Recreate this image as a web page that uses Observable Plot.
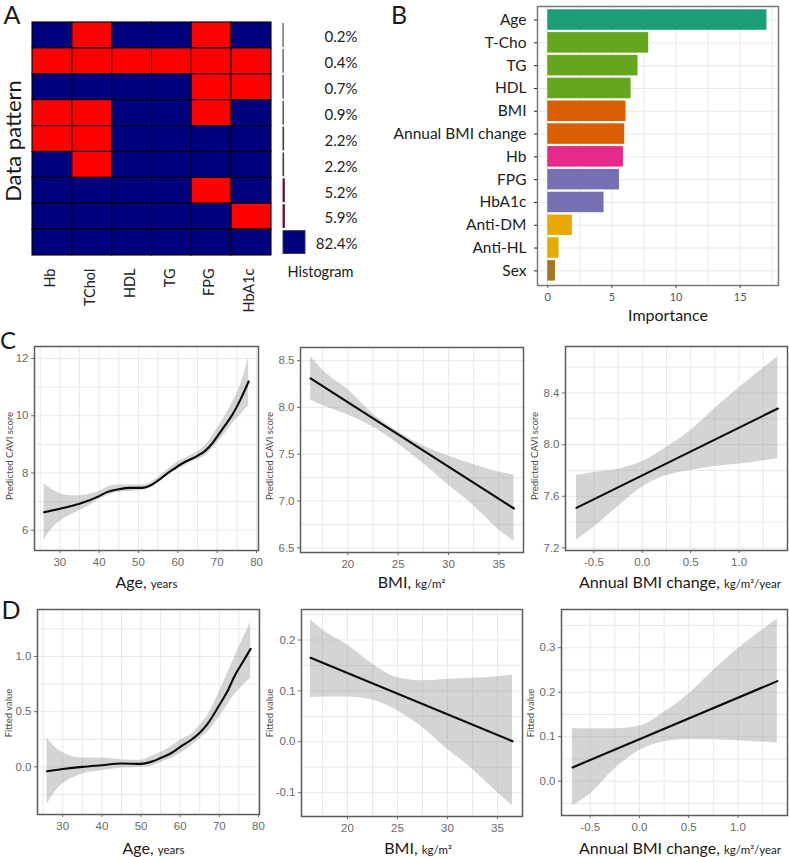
<!DOCTYPE html>
<html>
<head>
<meta charset="utf-8">
<script src="https://cdn.jsdelivr.net/npm/d3@7"></script>
<script src="https://cdn.jsdelivr.net/npm/@observablehq/plot@0.6"></script>
<style>
html,body{margin:0;padding:0;background:#fff}
#page{position:relative;width:789px;height:857px;overflow:hidden;font-family:Lato,sans-serif;color:#1a1a1a}
.lab{position:absolute;white-space:nowrap;line-height:1}
.lab small{font-size:.72em}
</style>
</head>
<body>
<div id="page"></div>
<script>
// ---- Panel A data
const patternVars = ["Hb","TChol","HDL","TG","FPG","HbA1c"];
const patternRows = [
  [0,1,0,0,1,0],
  [1,1,1,1,1,1],
  [0,0,0,0,1,1],
  [1,1,0,0,1,0],
  [1,1,0,0,0,0],
  [0,1,0,0,0,0],
  [0,0,0,0,1,0],
  [0,0,0,0,0,1],
  [0,0,0,0,0,0]
];
const patternPct = [0.2,0.4,0.7,0.9,2.2,2.2,5.2,5.9,82.4];

// ---- Panel B data
const impNames = ["Age","T-Cho","TG","HDL","BMI","Annual BMI change","Hb","FPG","HbA1c","Anti-DM","Anti-HL","Sex"];
const impValues = [17.09,7.87,7.04,6.5,6.1,6.0,5.9,5.59,4.39,1.92,0.88,0.6];
const impGroups = ["a","b","b","b","c","c","d","e","e","f","f","g"];

// ---- Panel C data
const c1LineX = [26,30,35,40,42,45,48,51,53,55,57,59,60,62,65,67,69,70,72,74,76,78];
const c1LineY = [6.63,6.75,6.92,7.19,7.33,7.43,7.48,7.48,7.56,7.74,7.95,8.14,8.24,8.4,8.6,8.78,9.08,9.27,9.66,10.07,10.59,11.2];
const c1BandX = [26,28,30,33,35,38,40,42,45,50,52,55,58,60,62,65,67,70,72,74,76,78];
const c1Upper = [7.62,7.42,7.28,7.2,7.2,7.27,7.36,7.5,7.58,7.58,7.6,7.85,8.17,8.38,8.52,8.74,8.95,9.55,10.0,10.5,11.1,12.05];
const c1Lower = [5.65,6.05,6.3,6.55,6.68,6.9,7.07,7.2,7.33,7.38,7.42,7.65,7.98,8.12,8.28,8.47,8.6,9.05,9.38,9.75,10.05,10.35];

const bmiLineX = [16.3,36.5];
const c2LineY = [8.31,6.92];
const c2UpperX = [16.3,17.5,20,22.5,25,27.5,30,32.5,35,36.5];
const c2Upper = [8.54,8.40,8.19,7.93,7.74,7.59,7.48,7.39,7.31,7.28];
const c2Lower = [8.08,8.02,7.92,7.79,7.61,7.40,7.17,6.95,6.69,6.57];

const chgLineX = [-0.68,1.4];
const c3LineY = [7.51,8.28];
const c3BandX = [-0.68,-0.5,-0.25,0,0.25,0.5,0.75,1,1.4];
const c3Upper = [7.76,7.785,7.81,7.87,7.98,8.11,8.28,8.44,8.68];
const c3Lower = [7.26,7.36,7.52,7.67,7.76,7.80,7.83,7.85,7.89];

// ---- Panel D data
const d1LineX = [26,30,35,40,45,50,53,55,58,60,63,65,67,70,72,74,76,78];
const d1LineY = [-0.04,-0.02,0,0.015,0.03,0.027,0.05,0.08,0.13,0.18,0.25,0.31,0.39,0.56,0.68,0.83,0.95,1.07];
const d1BandX = [26,28,30,33,35,40,45,50,53,55,58,60,63,65,67,70,72,74,76,78];
const d1Upper = [0.26,0.18,0.13,0.09,0.08,0.08,0.065,0.06,0.10,0.13,0.19,0.24,0.30,0.375,0.465,0.68,0.84,1.0,1.16,1.31];
const d1Lower = [-0.34,-0.23,-0.155,-0.095,-0.065,-0.035,-0.01,-0.005,0.01,0.04,0.08,0.12,0.195,0.255,0.315,0.45,0.555,0.66,0.735,0.80];

const d2LineY = [0.165,0.001];
const d2Upper = [0.24,0.22,0.19,0.153,0.126,0.12,0.123,0.125,0.128,0.131];
const d2Lower = [0.087,0.088,0.088,0.082,0.061,0.028,-0.015,-0.054,-0.1,-0.126];

const d3LineY = [0.031,0.225];
const d3Upper = [0.118,0.118,0.118,0.124,0.155,0.196,0.249,0.298,0.364];
const d3Lower = [-0.055,-0.029,0.028,0.069,0.089,0.094,0.093,0.091,0.086];

// ---- Tick lists
const ageMajor=[30,40,50,60,70,80], ageGrid=[25,30,35,40,45,50,55,60,65,70,75,80];
const bmiMajor=[20,25,30,35], bmiGrid=[17.5,20,22.5,25,27.5,30,32.5,35];
const chgMajor=[-0.5,0,0.5,1], chgGrid=[-0.5,-0.25,0,0.25,0.5,0.75,1,1.25];

const page = document.getElementById("page");
const GRID="#e9e9e9", FRAME="#5c5c5c", TICK="#6a6a6a";
const ARIAL="'Liberation Sans',Arial,sans-serif";

function place(svg,box){
  svg.style.position="absolute";
  svg.style.left=box.l+"px";
  svg.style.top=box.t+"px";
  svg.style.overflow="visible";
  svg.style.background="transparent";
  svg.style.maxWidth="none";
  page.appendChild(svg);
}
function label(html,x,y,size,opts={}){
  const d=document.createElement("div");
  d.className="lab";
  d.innerHTML=html;
  d.style.left=x+"px"; d.style.top=y+"px"; d.style.fontSize=size+"px";
  d.style.color=opts.color||"#1a1a1a";
  d.style.transform="translate(-50%,-50%)"+(opts.rotate?` rotate(${opts.rotate}deg)`:"");
  page.appendChild(d);
}
const zip=(xs,ys)=>xs.map((x,i)=>({x,y:ys[i]}));
const zipBand=(xs,lo,hi)=>xs.map((x,i)=>({x,lo:lo[i],hi:hi[i]}));

function smoothPanel(p){
  const b=p.box, w=b.r-b.l, h=b.b-b.t;
  const svg=Plot.plot({
    width:w,height:h,marginLeft:0,marginRight:0,marginTop:0,marginBottom:0,
    x:{domain:p.xDomain,range:[0,w]},
    y:{domain:p.yDomain,range:[h,0]},
    marks:[
      Plot.ruleX(p.xGrid,{stroke:GRID,strokeWidth:1}),
      Plot.ruleY(p.yGrid,{stroke:GRID,strokeWidth:1}),
      Plot.areaY(zipBand(p.bandX,p.lower,p.upper),{x:"x",y1:"lo",y2:"hi",fill:"#999999",fillOpacity:0.42,curve:"monotone-x"}),
      Plot.line(zip(p.lineX,p.lineY),{x:"x",y:"y",stroke:"#0a0a0a",strokeWidth:2.1,curve:"monotone-x"}),
      Plot.frame({stroke:FRAME,strokeWidth:1.5}),
      Plot.axisX({ticks:p.xTicks,tickSize:3,tickPadding:4,fontSize:11.5,fontFamily:ARIAL,color:TICK,label:null,tickFormat:p.xFmt}),
      Plot.axisY({ticks:p.yTicks,tickSize:3,tickPadding:3,fontSize:11.5,fontFamily:ARIAL,color:TICK,label:null,tickFormat:p.yFmt})
    ]
  });
  place(svg,b);
}

// ---- Panel A
{
  const b={l:32,t:22,r:271,b:255}, w=b.r-b.l, h=b.b-b.t;
  const cells=patternRows.flatMap((row,i)=>row.map((v,j)=>({row:i,name:patternVars[j],v})));
  const svg=Plot.plot({
    width:w,height:h,marginLeft:0,marginRight:0,marginTop:0,marginBottom:0,
    x:{type:"band",domain:patternVars,range:[0,w],padding:0,round:false},
    y:{type:"band",domain:d3.range(patternRows.length),range:[0,h],padding:0,round:false,axis:null},
    color:{type:"ordinal",domain:[0,1],range:["#00007f","#ff0000"]},
    marks:[
      Plot.cell(cells,{x:"name",y:"row",fill:"v",stroke:"#000000",strokeWidth:1.1}),
      Plot.axisX({tickRotate:-90,tickSize:0,tickPadding:13,dx:-2,fontSize:14.5,fontFamily:"Lato",color:"#222",label:null})
    ]
  });
  place(svg,b);

  const hb={l:283,t:22,r:357,b:255}, hw=hb.r-hb.l;
  const hist=patternPct.map((v,i)=>({row:i,v}));
  const svg2=Plot.plot({
    width:hw,height:h,marginLeft:0,marginRight:0,marginTop:0,marginBottom:0,
    x:{domain:[0,82.4],range:[0,22],axis:null},
    y:{type:"band",domain:d3.range(patternPct.length),range:[0,h],padding:0,round:false,axis:null},
    marks:[
      Plot.barX(hist,{y:"row",x1:0,x2:"v",insetTop:1.5,insetBottom:1.5,fill:"#00007f",stroke:d=>d.v>5&&d.v<10?"#7a3040":"#3c3c4c",strokeWidth:1}),
      Plot.text(hist,{y:"row",frameAnchor:"right",textAnchor:"end",dy:2,text:d=>d.v+"%",fontSize:15,fontFamily:"Lato",fill:"#222"})
    ]
  });
  place(svg2,hb);
  label("Histogram",320.5,272,14.5);
  label("Data pattern",13,141,22,{rotate:-90});
  label("A",12,14,25);
}

// ---- Panel B
{
  const b={l:537,t:6,r:778,b:285}, w=b.r-b.l, h=b.b-b.t;
  const rows=impNames.map((n,i)=>({n,v:impValues[i],g:impGroups[i]}));
  const svg=Plot.plot({
    width:w,height:h,marginLeft:0,marginRight:0,marginTop:0,marginBottom:0,
    x:{domain:[-0.8,17.99],range:[0,w]},
    y:{type:"band",domain:impNames,range:[1,276.9],padding:0.1,round:false},
    color:{type:"ordinal",domain:["a","b","c","d","e","f","g"],range:["#1b9e77","#66a61e","#d95f02","#e7298a","#7570b3","#e6ab02","#a6761d"]},
    marks:[
      Plot.ruleX([0,2.5,5,7.5,10,12.5,15,17.5],{stroke:GRID}),
      Plot.tickY(impNames,{y:d=>d,stroke:GRID}),
      Plot.barX(rows,{y:"n",x1:0,x2:"v",fill:"g"}),
      Plot.frame({stroke:"#7a7a7a",strokeWidth:1.5}),
      Plot.axisX({ticks:[0,5,10,15],tickSize:3,tickPadding:5,fontSize:11,fontFamily:"Lato",color:"#555",label:null}),
      Plot.axisY({tickSize:3,tickPadding:8,fontSize:15.5,fontFamily:"Lato",color:"#222",label:null})
    ]
  });
  place(svg,b);
  label("Importance",668,315,16);
  label("B",399,14,25);
}

// ---- Panel C
smoothPanel({box:{l:34,t:346,r:258,b:550},xDomain:[23.56,80.5],yDomain:[5.29,12.42],
  xGrid:ageGrid,yGrid:[6,7,8,9,10,11,12],xTicks:ageMajor,yTicks:[6,8,10,12],xFmt:String,yFmt:String,
  lineX:c1LineX,lineY:c1LineY,bandX:c1BandX,upper:c1Upper,lower:c1Lower});
smoothPanel({box:{l:300,t:347,r:523,b:552},xDomain:[15.3,37.45],yDomain:[6.45,8.64],
  xGrid:bmiGrid,yGrid:[6.5,6.75,7,7.25,7.5,7.75,8,8.25,8.5],xTicks:bmiMajor,yTicks:[6.5,7,7.5,8,8.5],xFmt:String,yFmt:d=>d.toFixed(1),
  lineX:bmiLineX,lineY:c2LineY,bandX:c2UpperX,upper:c2Upper,lower:c2Lower});
smoothPanel({box:{l:565,t:346,r:787,b:550},xDomain:[-0.793,1.5],yDomain:[7.18,8.76],
  xGrid:chgGrid,yGrid:[7.2,7.4,7.6,7.8,8,8.2,8.4,8.6],xTicks:chgMajor,yTicks:[7.2,7.6,8,8.4],xFmt:d=>d.toFixed(1),yFmt:d=>d.toFixed(1),
  lineX:chgLineX,lineY:c3LineY,bandX:c3BandX,upper:c3Upper,lower:c3Lower});

// ---- Panel D
smoothPanel({box:{l:37,t:609,r:259,b:814},xDomain:[23.55,80.26],yDomain:[-0.432,1.426],
  xGrid:ageGrid,yGrid:[-0.25,0,0.25,0.5,0.75,1,1.25],xTicks:ageMajor,yTicks:[0,0.5,1],xFmt:String,yFmt:d=>d.toFixed(1),
  lineX:d1LineX,lineY:d1LineY,bandX:d1BandX,upper:d1Upper,lower:d1Lower});
smoothPanel({box:{l:301,t:609,r:522,b:816},xDomain:[15.4,37.5],yDomain:[-0.147,0.26],
  xGrid:bmiGrid,yGrid:[-0.1,-0.05,0,0.05,0.1,0.15,0.2,0.25],xTicks:bmiMajor,yTicks:[-0.1,0,0.1,0.2],xFmt:String,yFmt:d=>d.toFixed(1),
  lineX:bmiLineX,lineY:d2LineY,bandX:c2UpperX,upper:d2Upper,lower:d2Lower});
smoothPanel({box:{l:561,t:609,r:787,b:815},xDomain:[-0.792,1.503],yDomain:[-0.077,0.386],
  xGrid:chgGrid,yGrid:[-0.05,0,0.05,0.1,0.15,0.2,0.25,0.3,0.35],xTicks:chgMajor,yTicks:[0,0.1,0.2,0.3],xFmt:d=>d.toFixed(1),yFmt:d=>d.toFixed(1),
  lineX:chgLineX,lineY:d3LineY,bandX:c3BandX,upper:d3Upper,lower:d3Lower});

// ---- Axis titles and panel letters
[[9.5,456],[270,456],[535,456]].forEach(([x,y])=>label("Predicted CAVI score",x,y,9.5,{rotate:-90,color:"#4a4a4a"}));
[[9,713],[270,713],[531,713]].forEach(([x,y])=>label("Fitted value",x,y,9.5,{rotate:-90,color:"#4a4a4a"}));
label("Age, <small>years</small>",146.5,582,16);
label("BMI, <small>kg/m²</small>",411.5,582,16);
label("Annual BMI change, <small>kg/m²/year</small>",680,582,16);
label("Age, <small>years</small>",153.5,848,16);
label("BMI, <small>kg/m²</small>",418,848,16);
label("Annual BMI change, <small>kg/m²/year</small>",680,848,16);
label("C",8,340,24);
label("D",11,609,25);
</script>
</body>
</html>
